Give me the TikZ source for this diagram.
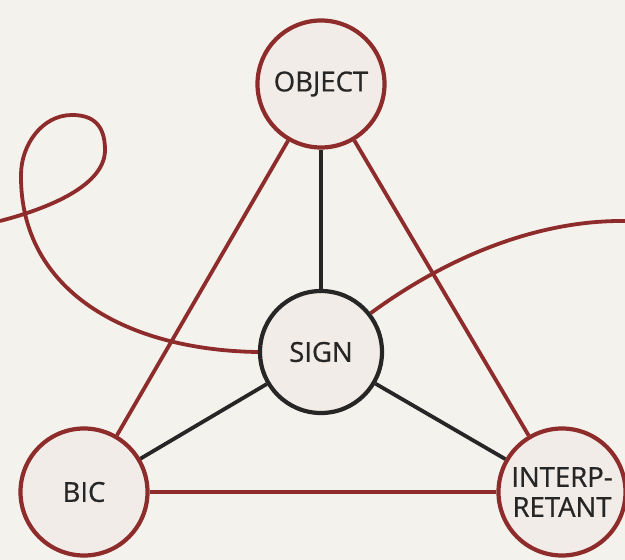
\documentclass[tikz,border=0pt]{standalone}
\usepackage{fontspec}
\setmainfont{Open Sans}
\newfontfamily\labelfont{Open Sans}[FakeBold=0.7]
\definecolor{paper}{HTML}{F4F2EC}
\definecolor{disc}{HTML}{F2ECE8}
\definecolor{rust}{HTML}{8E2B2B}
\definecolor{ink}{HTML}{262626}
\begin{document}
\begin{tikzpicture}[x=1pt,y=-1pt]
    \tikzstyle{vertex} = [circle, minimum size=127pt, inner sep=0pt, line width=4.2pt, draw=rust, fill=disc, text=ink, align=center, font=\labelfont\fontsize{27.5}{30}\selectfont]
    \tikzstyle{centre} = [vertex, draw=ink, minimum size=122pt]
    \tikzstyle{thread} = [draw=rust, line width=3.8pt]
    \tikzstyle{spoke} = [draw=ink, line width=3.8pt]

    \fill[paper] (0,0) rectangle (625,560);
    \useasboundingbox (0,0) rectangle (625,560);

    \node (object) [vertex] at (321,84) {OBJECT};
    \node (sign) [centre] at (321,352) {SIGN};
    \node (bic) [vertex] at (84,492) {BIC};
    \node (interp) [vertex] at (562,492) {INTERP-\\RETANT};
    \coordinate (lefttail) at (0,221);
    \coordinate (righttail) at (625,221);

    \draw[thread] (object) -- (bic);
    \draw[thread] (object) -- (interp);
    \draw[thread] (bic) -- (interp);
    \draw[spoke]  (sign) -- (object);
    \draw[spoke]  (sign) -- (bic);
    \draw[spoke]  (sign) -- (interp);

    \draw[thread] (lefttail) .. controls (50,208) and (105,185) .. (105,150)
        .. controls (105,124) and (92,115) .. (72,115)
        .. controls (42,115) and (21,145) .. (21,175)
        .. controls (20,290) and (125,350) .. (sign.west);
    \draw[thread] (sign.38) .. controls (450,255) and (540,220) .. (righttail);
\end{tikzpicture}
\end{document}
